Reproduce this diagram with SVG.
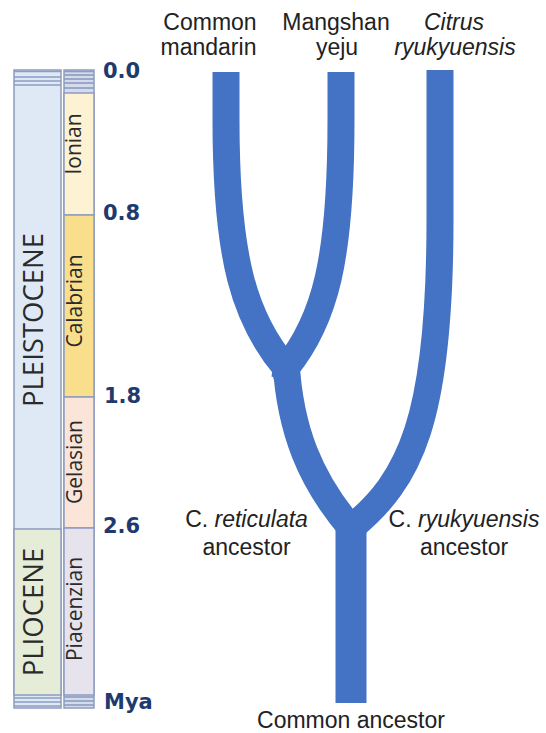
<svg xmlns="http://www.w3.org/2000/svg" width="546" height="733" viewBox="0 0 546 733">
<style>
.lbl{font-family:"Liberation Sans",Arial,sans-serif;font-size:23px;fill:#222;text-anchor:middle}
.it{font-style:italic}
.num{font-family:"DejaVu Sans",Verdana,sans-serif;font-weight:bold;font-size:21px;fill:#1f3a6e}
.stage{font-family:"Open Sans","Liberation Sans",sans-serif;font-size:21px;fill:#2a2a2a;text-anchor:middle}
.epoch{font-family:"Open Sans","Liberation Sans",sans-serif;font-size:27.5px;fill:#2a2a2a;text-anchor:middle}
.col{stroke:#8d9cc0;stroke-width:1.5}
.band{stroke:#8d9cc0;stroke-width:1.6}
.br{fill:none;stroke:#4472c4;stroke-width:27;stroke-linejoin:round}
</style>
<rect width="546" height="733" fill="#fff"/>

<g id="timescale">
  <g id="epochs">
    <rect class="col" x="14" y="70" width="47" height="638" fill="#dfe9f5"/>
    <rect class="col" x="14" y="529" width="47" height="166" fill="#e5edd9"/>
    <line class="band" x1="14" y1="71.5" x2="61" y2="71.5"/>
    <line class="band" x1="14" y1="77" x2="61" y2="77"/>
    <line class="band" x1="14" y1="81" x2="61" y2="81"/>
    <line class="band" x1="14" y1="85" x2="61" y2="85"/>
    <line class="band" x1="14" y1="698" x2="61" y2="698"/>
    <line class="band" x1="14" y1="702" x2="61" y2="702"/>
    <line class="band" x1="14" y1="706" x2="61" y2="706"/>
    <text class="epoch" transform="translate(43,320) rotate(-90)">PLEISTOCENE</text>
    <text class="epoch" transform="translate(43,612) rotate(-90)">PLIOCENE</text>
  </g>
  <g id="stages">
    <rect class="col" x="64" y="70" width="30" height="638" fill="#d3dbec"/>
    <rect class="col" x="64" y="93" width="30" height="122" fill="#fdf3d3"/>
    <rect class="col" x="64" y="215" width="30" height="182" fill="#f9df8c"/>
    <rect class="col" x="64" y="397" width="30" height="131" fill="#fbe4d8"/>
    <rect class="col" x="64" y="528" width="30" height="167" fill="#e6e3ec"/>
    <line class="band" x1="64" y1="71.5" x2="94" y2="71.5"/>
    <line class="band" x1="64" y1="75" x2="94" y2="75"/>
    <line class="band" x1="64" y1="79" x2="94" y2="79"/>
    <line class="band" x1="64" y1="83" x2="94" y2="83"/>
    <line class="band" x1="64" y1="88" x2="94" y2="88"/>
    <line class="band" x1="64" y1="697" x2="94" y2="697"/>
    <line class="band" x1="64" y1="701" x2="94" y2="701"/>
    <line class="band" x1="64" y1="705" x2="94" y2="705"/>
    <text class="stage" transform="translate(81,144) rotate(-90)">Ionian</text>
    <text class="stage" transform="translate(82,301) rotate(-90)">Calabrian</text>
    <text class="stage" transform="translate(82,462) rotate(-90)">Gelasian</text>
    <text class="stage" transform="translate(82,609) rotate(-90)">Piacenzian</text>
  </g>
  <g id="ages">
    <text class="num" x="103" y="78">0.0</text>
    <text class="num" x="103" y="220">0.8</text>
    <text class="num" x="104" y="403">1.8</text>
    <text class="num" x="103" y="533">2.6</text>
    <text class="num" x="104" y="709">Mya</text>
  </g>
</g>

<g id="connectors">
  <path class="br" d="M226,72 V120 C226,260 245,320 286,368 L287,378"/>
  <path class="br" d="M341,72 V120 C341,260 325,320 286,368 L285,378"/>
  <path class="br" d="M286,362 C290,430 310,480 351,528 L351,545"/>
  <path class="br" d="M440,70 V220 C440,420 410,480 351,528 L351,545"/>
  <path class="br" d="M351,515 V703" style="stroke-width:31"/>
</g>

<g id="common-mandarin">
  <text class="lbl" x="210" y="30">Common</text>
  <text class="lbl" x="208.5" y="55">mandarin</text>
</g>
<g id="mangshan-yeju">
  <text class="lbl" x="336" y="30">Mangshan</text>
  <text class="lbl" x="337" y="55">yeju</text>
</g>
<g id="citrus-ryukyuensis">
  <text class="lbl it" x="454" y="30">Citrus</text>
  <text class="lbl it" x="455" y="55">ryukyuensis</text>
</g>
<g id="reticulata-ancestor">
  <text class="lbl" x="246.5" y="527">C. <tspan class="it">reticulata</tspan></text>
  <text class="lbl" x="246.5" y="555">ancestor</text>
</g>
<g id="ryukyuensis-ancestor">
  <text class="lbl" x="464" y="527">C. <tspan class="it">ryukyuensis</tspan></text>
  <text class="lbl" x="464" y="555">ancestor</text>
</g>
<g id="common-ancestor">
  <text class="lbl" x="351" y="728">Common ancestor</text>
</g>
</svg>
